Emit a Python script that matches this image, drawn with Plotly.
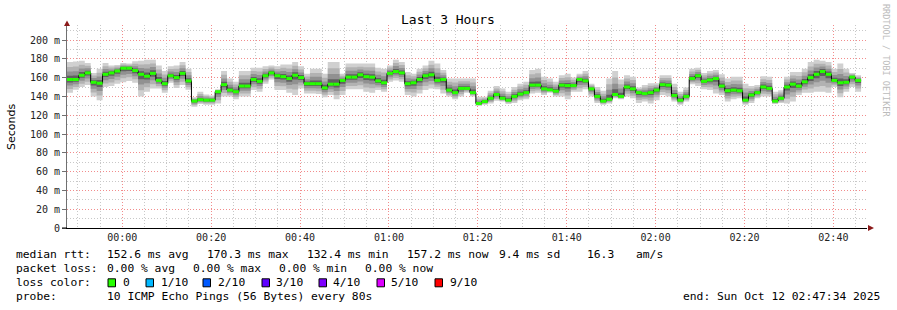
import plotly.graph_objects as go
from datetime import datetime, timedelta

# ---------------- data ----------------
START = datetime(2025, 10, 11, 23, 47, 34)
STEP_SECONDS = 80
WINDOW_HOURS = 3

median_ms = [
    158, 158, 162.5, 165, 155, 154, 163.5, 165, 167, 170,
    170, 167.5, 163.5, 161.5, 164.5, 157, 153.5, 162, 160, 164.5,
    156.5, 135, 136.5, 136, 136, 145, 152.5, 146.7, 145, 151,
    151, 158, 156, 162, 165, 162, 161, 159, 162.5, 160,
    153.5, 153.5, 153.5, 149, 153, 153, 157, 160.5, 160.5, 163,
    161, 160.5, 156.5, 154.5, 164.5, 166.5, 165, 153.5, 154.5, 158,
    162, 163, 157, 158, 146.7, 144, 148.5, 148.5, 144, 132.5,
    134.5, 138, 142, 138, 136, 140, 142.5, 144, 152, 152,
    148, 147, 145.6, 152, 151.5, 151.5, 158, 156.5, 148, 140,
    135, 137, 142, 140, 150, 148, 144, 143, 144, 146.7,
    152.5, 152, 141, 136, 140, 159, 162, 156, 157.5, 159,
    151, 146, 146.7, 146, 136, 141.5, 144, 150, 148.5, 135,
    138, 150, 153, 151, 155.5, 160, 163.5, 166.5, 163.5, 157,
    154.5, 155, 160.5, 157,
]

smoke_max_ms = [
    176.5, 177, 178, 175.5, 165, 169.5, 175.5, 173, 173.5, 175.5,
    175, 177.5, 178, 179, 179, 173, 167, 172, 173, 176.5,
    169.5, 139, 145, 142, 141, 147.5, 167, 159, 155.5, 167,
    167, 170.5, 170.5, 172, 173, 172, 174, 174, 176.5, 172,
    164, 169.5, 169.5, 164, 176.5, 176.5, 164, 175, 175, 175,
    175, 175, 170.5, 169.5, 173, 179, 176.5, 166, 164, 169.5,
    173, 178, 175, 168, 159, 159, 159, 159, 159, 139.5,
    139.5, 146, 151, 148.5, 145, 150, 153.5, 155.5, 168, 169.5,
    161, 159, 155.5, 162.5, 164, 160, 164, 167, 153.5, 150,
    146, 159, 167, 158, 162.5, 161, 149.5, 152, 154, 154,
    162.5, 162.5, 153.5, 145, 149.5, 169.5, 170.5, 165, 167, 168,
    163.5, 159, 161, 161, 153.5, 151, 152, 161.5, 161, 145,
    146.5, 161, 166, 166, 169.5, 176.5, 179, 178, 176.5, 169.5,
    175, 169.5, 165, 162.5,
]

smoke_min_ms = [
    144, 147, 150, 152, 140, 136, 150, 151, 153.5, 155,
    156.5, 154.5, 140, 145, 148.5, 148.5, 144, 154.5, 149, 152,
    147, 129, 132, 131, 131, 132.5, 140, 140, 137, 140,
    140, 146.7, 145, 153.5, 158, 146.7, 146.7, 144, 141.5, 148.5,
    143, 143, 142.5, 139, 141.5, 137, 141.5, 147.5, 147.5, 147.5,
    145, 144, 146.7, 145, 155.5, 157, 155.5, 141.5, 140, 143,
    146.7, 148.5, 147.5, 143, 140, 137, 140, 144, 140, 130,
    131, 132.5, 135.5, 134.5, 132, 133, 136, 137, 143, 144,
    141.5, 144, 140, 140, 137, 145, 145, 147.5, 140, 133,
    131, 132.5, 138, 137, 140, 138, 133, 134.5, 132.5, 136,
    141.5, 140, 134.5, 131, 134.5, 153, 151, 147.5, 146.7, 143,
    141.5, 134.5, 137, 138, 131, 133, 138, 140, 140, 132,
    133, 132.5, 134.5, 141.5, 144, 144, 145, 145, 144, 150,
    139, 145, 150, 145,
]

y_tick_values = [0, 20, 40, 60, 80, 100, 120, 140, 160, 180, 200]
y_tick_labels = ["0", "20 m", "40 m", "60 m", "80 m", "100 m", "120 m",
                 "140 m", "160 m", "180 m", "200 m"]
y_minor_values = [10, 30, 50, 70, 90, 110, 130, 150, 170, 190, 210]

stats_rtt = ["152.6 ms avg", "170.3 ms max", "132.4 ms min", "157.2 ms now", "9.4 ms sd", "16.3", "am/s"]
stats_loss = ["0.00 % avg", "0.00 % max", "0.00 % min", "0.00 % now"]
loss_labels = ["0", "1/10", "2/10", "3/10", "4/10", "5/10", "9/10"]
loss_colors = ["#26ff00", "#00b8ff", "#0059ff", "#5e00ff", "#7e00ff", "#dd00ff", "#ff0000"]
probe_text = "10 ICMP Echo Pings (56 Bytes) every 80s"
end_text = "end: Sun Oct 12 02:47:34 2025"

# ---------------- styling ----------------
SMOKE_LAYERS = [(1.0, "#d0d0d0"), (0.72, "#b2b2b2"), (0.46, "#919191"), (0.22, "#606060")]
MONO = "DejaVu Sans Mono"
PL, PR, PT, PB = 67, 867, 25, 228
PAD = 2  # annotation inner padding compensation (px)


def px(x):
    return (x - PL) / (PR - PL)


def py(y):
    return (PB - y) / (PB - PT)


n = len(median_ms)
edges = [START + timedelta(seconds=STEP_SECONDS * i) for i in range(n + 1)]
x_end = START + timedelta(hours=WINDOW_HOURS)

x_minor = []
t = datetime(2025, 10, 11, 23, 50, 0)
while t < x_end:
    if t.minute % 20 != 0:
        x_minor.append(t)
    t += timedelta(minutes=5)


def ext(a):
    return list(a) + [a[-1]]


fig = go.Figure()

for frac, col in SMOKE_LAYERS:
    lo = [m - frac * (m - l) for m, l in zip(median_ms, smoke_min_ms)]
    hi = [m + frac * (h - m) for m, h in zip(median_ms, smoke_max_ms)]
    fig.add_trace(go.Scatter(x=edges, y=ext(lo), mode="lines",
                             line=dict(width=0, shape="hv"), hoverinfo="skip"))
    fig.add_trace(go.Scatter(x=edges, y=ext(hi), mode="lines", fill="tonexty",
                             fillcolor=col, line=dict(width=0, shape="hv"), hoverinfo="skip"))

fig.add_trace(go.Scatter(x=edges, y=ext(median_ms), mode="lines",
                         line=dict(color="#000000", width=1, shape="hv")))

gx, gy = [], []
for i, m in enumerate(median_ms):
    gx += [edges[i], edges[i + 1], None]
    gy += [m, m, None]
fig.add_trace(go.Scatter(x=gx, y=gy, mode="lines", line=dict(color=loss_colors[0], width=3)))

major_grid = "#f28c8c"
minor_grid = "#c8c8c8"

fig.update_layout(
    width=897, height=310,
    margin=dict(l=PL, r=897 - PR, t=PT, b=310 - PB, pad=0),
    paper_bgcolor="white", plot_bgcolor="white",
    showlegend=False,
    xaxis=dict(
        type="date",
        range=[START, x_end],
        tickformat="%H:%M", dtick=20 * 60 * 1000, tick0="2025-10-12 00:00:00",
        showgrid=True, gridcolor=major_grid, griddash="1px,2px", gridwidth=1,
        minor=dict(tickmode="array", tickvals=x_minor, showgrid=True,
                   gridcolor=minor_grid, griddash="1px,2px", gridwidth=1),
        showline=True, linecolor="#000000", linewidth=1, ticks="",
        tickfont=dict(family=MONO, size=10, color="#222222"),
        zeroline=False, fixedrange=True,
    ),
    yaxis=dict(
        range=[0, (PB - PT) / 0.94],
        tickvals=y_tick_values, ticktext=y_tick_labels,
        showgrid=True, gridcolor=major_grid, griddash="1px,2px", gridwidth=1,
        minor=dict(tickmode="array", tickvals=y_minor_values, showgrid=True,
                   gridcolor=minor_grid, griddash="1px,2px", gridwidth=1),
        showline=True, linecolor="#707070", linewidth=1,
        ticks="outside", ticklen=4, tickcolor="#707070",
        tickfont=dict(family=MONO, size=10, color="#222222"),
        zeroline=False, fixedrange=True,
    ),
)

shapes = [
    dict(type="path", xref="paper", yref="paper",
         path=f"M {px(64)} {py(26)} L {px(67)} {py(20.5)} L {px(70)} {py(26)} Z",
         fillcolor="#8b1a1a", line=dict(width=0)),
    dict(type="path", xref="paper", yref="paper",
         path=f"M {px(868)} {py(225)} L {px(874)} {py(228)} L {px(868)} {py(231)} Z",
         fillcolor="#8b1a1a", line=dict(width=0)),
    dict(type="line", xref="paper", yref="paper", x0=px(62), x1=px(67), y0=py(228), y1=py(228),
         line=dict(color="#000000", width=1)),
]

annotations = [
    dict(text="Last 3 Hours", x=px(448), y=py(20), xanchor="center", yanchor="middle",
         font=dict(family=MONO, size=13, color="#000000")),
    dict(text="Seconds", x=px(11), y=py(127), xanchor="center", yanchor="middle", textangle=-90,
         font=dict(family="DejaVu Sans", size=11, color="#000000")),
    dict(text="RRDTOOL / TOBI OETIKER", x=px(886), y=py(60), xanchor="center", yanchor="middle",
         textangle=90, font=dict(family=MONO, size=8.5, color="#bbbbbb")),
]

LEG_SIZE = 11.3


def txt(s, x, y, anchor="left"):
    xx = x - PAD if anchor == "left" else x + PAD
    annotations.append(dict(text=s, x=px(xx), y=py(y), xanchor=anchor, yanchor="middle",
                            font=dict(family=MONO, size=LEG_SIZE, color="#000000")))


L1, L2, L3, L4 = 254.5, 268.7, 282.8, 296.8
txt("median rtt:", 16, L1)
for s, x in zip(stats_rtt, [107, 207, 307, 407, 499, 587, 636]):
    txt(s, x, L1)
txt("packet loss:", 16, L2)
for s, x in zip(stats_loss, [107, 193, 279, 365]):
    txt(s, x, L2)
txt("loss color:", 16, L3)
box_x = [108, 146, 203, 262, 319, 377, 435]
label_x = [123, 161, 218, 276, 333, 391, 450]
for lab, col, bx, lx in zip(loss_labels, loss_colors, box_x, label_x):
    shapes.append(dict(type="rect", xref="paper", yref="paper",
                       x0=px(bx), x1=px(bx + 7.5), y0=py(L3 + 4), y1=py(L3 - 4),
                       fillcolor=col, line=dict(color="#000000", width=1)))
    txt(lab, lx, L3)
txt("probe:", 16, L4)
txt(probe_text, 107, L4)
txt(end_text, 880, L4, anchor="right")

for a in annotations:
    a.update(xref="paper", yref="paper", showarrow=False)

fig.update_layout(shapes=shapes, annotations=annotations)
fig.write_html("out.html")
